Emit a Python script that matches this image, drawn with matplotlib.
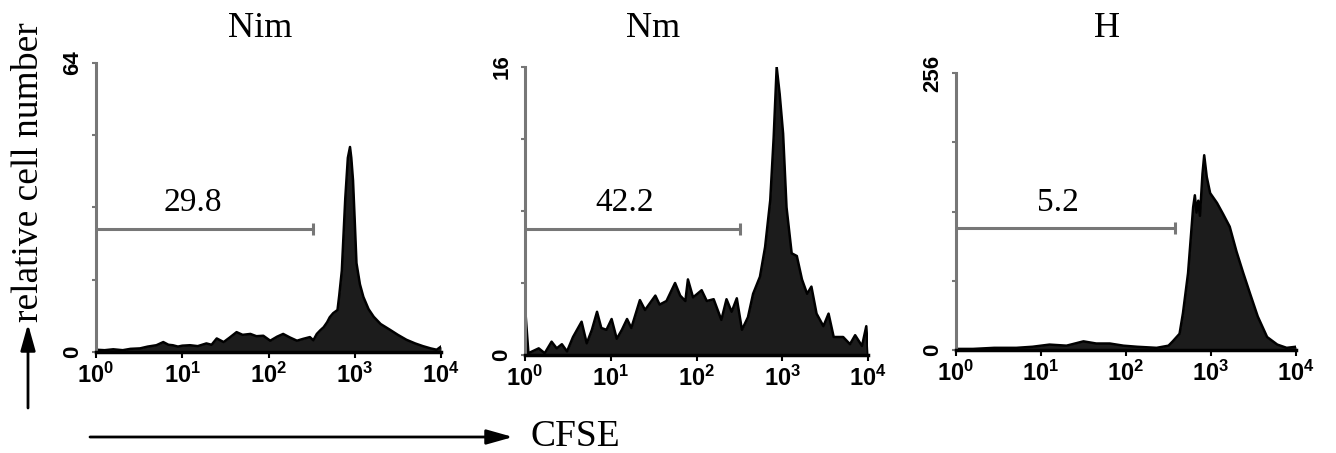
import matplotlib
matplotlib.use("Agg")
import matplotlib.pyplot as plt
import numpy as np
from matplotlib.patches import FancyArrowPatch

plt.rcParams["mathtext.fontset"] = "custom"
plt.rcParams["mathtext.rm"] = "Liberation Sans:bold"
plt.rcParams["mathtext.bf"] = "Liberation Sans:bold"
plt.rcParams["mathtext.default"] = "bf"

# CFSE histograms, x given as log10(CFSE), y as cell count
nim_log_cfse = [0.00, 0.10, 0.20, 0.31, 0.40, 0.51, 0.60, 0.70, 0.78, 0.84,
                0.89, 0.95, 1.00, 1.09, 1.18, 1.28, 1.34, 1.40, 1.48, 1.55,
                1.63, 1.70, 1.79, 1.86, 1.94, 2.02, 2.10, 2.17, 2.25, 2.33,
                2.40, 2.48, 2.52, 2.56, 2.60, 2.64, 2.68, 2.71, 2.75, 2.80,
                2.82, 2.85, 2.87, 2.89, 2.91, 2.92, 2.945, 2.96, 2.98, 3.00,
                3.02, 3.06, 3.10, 3.16, 3.22, 3.30, 3.41, 3.50, 3.60, 3.70,
                3.79, 3.88, 3.95, 4.00]
nim_counts = [0.5, 0.4, 0.6, 0.4, 0.7, 0.8, 1.2, 1.5, 2.2, 1.6,
              1.5, 1.2, 1.4, 1.5, 1.3, 1.9, 1.6, 3.0, 2.2, 3.2,
              4.4, 3.8, 4.0, 3.5, 3.6, 2.5, 3.4, 4.0, 3.2, 2.5,
              2.9, 3.3, 2.6, 4.0, 4.8, 5.5, 6.6, 7.7, 8.6, 9.3,
              12.5, 18.0, 26.0, 34.0, 40.0, 43.0, 45.4, 43.0, 38.0, 29.0,
              19.7, 15.0, 12.2, 9.5, 7.8, 6.2, 4.9, 3.8, 2.7, 1.9,
              1.3, 0.8, 0.5, 1.2]

nm_log_cfse = [0.00, 0.04, 0.16, 0.23, 0.31, 0.37, 0.43, 0.49, 0.56, 0.66,
               0.72, 0.78, 0.84, 0.89, 0.95, 1.01, 1.07, 1.13, 1.19, 1.24,
               1.34, 1.40, 1.52, 1.57, 1.65, 1.75, 1.81, 1.87, 1.90, 1.96,
               2.06, 2.12, 2.20, 2.29, 2.35, 2.41, 2.47, 2.53, 2.60, 2.66,
               2.74, 2.80, 2.86, 2.90, 2.935, 2.97, 3.01, 3.05, 3.11, 3.17,
               3.23, 3.29, 3.34, 3.40, 3.48, 3.54, 3.60, 3.71, 3.79, 3.85,
               3.93, 3.98, 4.00]
nm_counts = [2.7, 0.1, 0.37, 0.1, 0.74, 0.37, 0.6, 0.2, 1.0, 1.85,
             0.65, 1.4, 2.4, 1.5, 1.4, 2.0, 0.9, 1.4, 2.0, 1.5,
             3.05, 2.5, 3.3, 2.8, 3.0, 4.0, 3.3, 3.0, 4.2, 3.2,
             3.6, 3.0, 3.1, 1.95, 3.1, 2.4, 3.15, 1.4, 2.1, 3.4,
             4.35, 6.0, 8.6, 12.1, 16.0, 14.5, 12.3, 8.2, 5.65, 5.5,
             4.2, 3.4, 3.8, 2.3, 1.6, 2.3, 1.0, 1.0, 0.6, 1.1,
             0.5, 1.6, 0.1]

h_log_cfse = [0.00, 0.20, 0.45, 0.71, 0.90, 1.10, 1.30, 1.50, 1.65, 1.81,
              1.97, 2.13, 2.36, 2.50, 2.55, 2.63, 2.67, 2.73, 2.79, 2.81,
              2.83, 2.85, 2.87, 2.90, 2.92, 2.95, 2.99, 3.07, 3.14, 3.22,
              3.30, 3.38, 3.46, 3.55, 3.66, 3.78, 3.89, 4.00]
h_counts = [1, 1, 2, 2, 3, 5, 4, 8, 6, 6,
            4, 3, 2, 4, 8, 15, 34, 71, 132, 143,
            127, 138, 124, 163, 180, 160, 145, 136, 126, 114,
            91, 71, 52, 31, 12, 5, 2, 3]

panel_titles = ["Nim", "Nm", "H"]
panel_ymax = [64, 16, 256]
gate_labels = ["29.8", "42.2", "5.2"]
gate_levels = [27.2, 7.0, 113]
gate_ends = [330, 324, 380]
gate_text_x = [13.3, 14.7, 15.8]
gate_text_y = [33, 8.45, 136]

W, H = 1336, 453
GRAY = "#777777"

# axes boxes in pixels: left, right, top, bottom
boxes = [(96, 441, 63, 352), (525, 868, 67, 355), (956, 1296, 73, 350)]
title_x = [260, 653, 1107]


def fx(px):
    return px / W


def fy(py):
    return 1 - py / H


fig = plt.figure(figsize=(W / 100, H / 100), dpi=100)

series = [(nim_log_cfse, nim_counts), (nm_log_cfse, nm_counts), (h_log_cfse, h_counts)]

for i, (logx, counts) in enumerate(series):
    l, r, t, b = boxes[i]
    ax = fig.add_axes([fx(l), fy(b), fx(r - l), (b - t) / H])
    x = 10 ** np.array(logx)
    y = np.array(counts)
    ax.fill_between(x, y, 0, color="#1c1c1c", lw=0)
    ax.plot(x, y, color="black", lw=1.8)
    ax.set_xscale("log")
    ax.set_xlim(1, 1e4)
    ax.set_ylim(0, panel_ymax[i])

    for s in ("top", "right"):
        ax.spines[s].set_visible(False)
    ax.spines["left"].set_color(GRAY)
    ax.spines["left"].set_linewidth(2.2)
    ax.spines["bottom"].set_color("black")
    ax.spines["bottom"].set_linewidth(2.5)

    ax.set_xticks([1, 10, 100, 1000, 10000])
    ax.set_xticklabels([rf"$10^{{{k}}}$" for k in range(5)], fontsize=17)
    ax.xaxis.set_minor_locator(matplotlib.ticker.NullLocator())
    ax.tick_params(axis="x", length=4, width=1.5, color="black", pad=4)

    ym = panel_ymax[i]
    ax.set_yticks([0, ym / 4, ym / 2, 3 * ym / 4, ym])
    ax.set_yticklabels([0, "", "", "", ym], rotation=90, va="center",
                       fontsize=16, fontweight="bold", family="Liberation Sans")
    ax.tick_params(axis="y", length=3, width=1.5, color=GRAY, pad=6)

    # gate marker
    ax.hlines(gate_levels[i], 1, gate_ends[i], color=GRAY, lw=2.2)
    ax.plot([gate_ends[i]], [gate_levels[i]], marker="|", ms=9, mew=2.2, color=GRAY)
    ax.text(gate_text_x[i], gate_text_y[i], gate_labels[i], ha="center", va="center",
            fontsize=24, family="Liberation Serif")

    fig.text(fx(title_x[i]), fy(37), panel_titles[i], ha="center", va="baseline",
             fontsize=26, family="Liberation Serif")

# axis captions with arrows
fig.text(fx(29), fy(172), "relative cell number", rotation=90, ha="center", va="center",
         fontsize=27, family="Liberation Serif")
arrow_style = "-|>,head_length=16,head_width=4.5"
fig.add_artist(FancyArrowPatch((fx(28), fy(408)), (fx(28), fy(324)),
                               transform=fig.transFigure, arrowstyle=arrow_style,
                               color="black", lw=2, mutation_scale=1, shrinkA=0, shrinkB=0))
fig.add_artist(FancyArrowPatch((fx(90), fy(437)), (fx(513), fy(437)),
                               transform=fig.transFigure, arrowstyle=arrow_style,
                               color="black", lw=2, mutation_scale=1, shrinkA=0, shrinkB=0))
fig.text(fx(530), fy(446), "CFSE", ha="left", va="baseline",
         fontsize=27, family="Liberation Serif")

fig.savefig("out.png", dpi=100)
